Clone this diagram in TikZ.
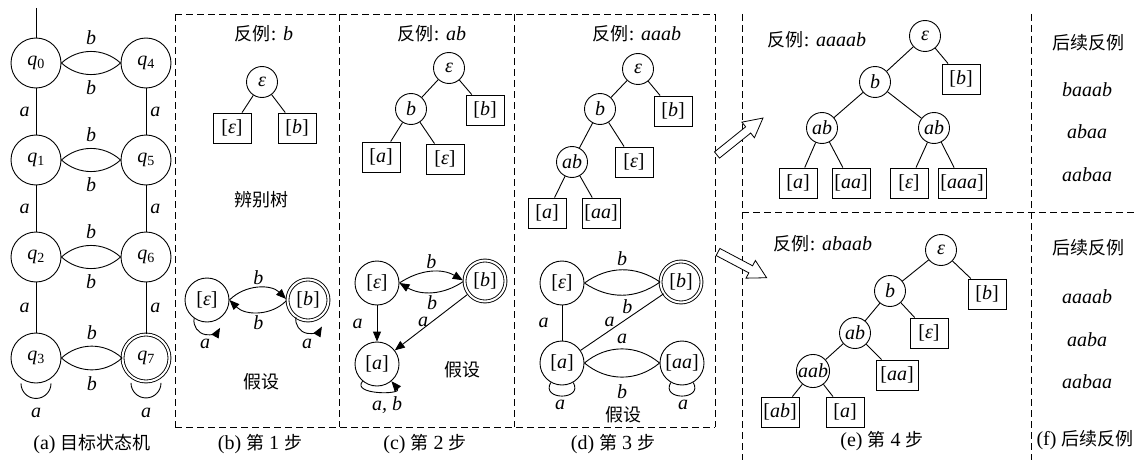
\documentclass[tikz,border=0pt]{standalone}
\usepackage{fontspec}
\setmainfont{Liberation Serif}
\newfontfamily\cjk{Noto Sans CJK SC}
\usetikzlibrary{arrows.meta}
\newcommand\fsz{\fontsize{20}{23}\selectfont}
\newcommand\zh[1]{{\fontsize{18}{21}\selectfont\cjk #1}}
\newcommand\cls[1]{[\textit{#1}]}
\newcommand\eps{\textit{ε}}
\newcommand\qs[1]{\textit{q}\textsubscript{#1}}
\begin{document}
\begin{tikzpicture}[x=1pt,y=1pt,line width=0.9pt,
  every node/.style={font=\fsz},
  st/.style={circle,draw,minimum size=50pt,inner sep=0pt},
  acc/.style={circle,draw,double,double distance=2pt,minimum size=47pt,inner sep=0pt},
  hs/.style={circle,draw,minimum size=44pt,inner sep=0pt},
  hacc/.style={circle,draw,double,double distance=2pt,minimum size=41pt,inner sep=0pt},
  tn/.style={circle,draw,minimum size=31pt,inner sep=0pt},
  lf/.style={rectangle,draw,minimum width=38pt,minimum height=30pt,inner sep=2pt},
  lbl/.style={font=\fsz\itshape,inner sep=1pt},
  sep/.style={dash pattern=on 7pt off 4pt,line width=0.8pt},
  tip/.style={-{Triangle[length=10pt,width=8pt]}},
  hollow/.style={line width=0.8pt,fill=white}]
\useasboundingbox (0,0) rectangle (1138,-460);

% ---------- (a) target automaton ----------
\node[st]  (q0) at (36,-63)   {\qs{0}};
\node[st]  (q4) at (146,-63)  {\qs{4}};
\node[st]  (q1) at (36,-160)  {\qs{1}};
\node[st]  (q5) at (146,-160) {\qs{5}};
\node[st]  (q2) at (36,-257)  {\qs{2}};
\node[st]  (q6) at (146,-257) {\qs{6}};
\node[st]  (q3) at (36,-358)  {\qs{3}};
\node[acc] (q7) at (146,-358) {\qs{7}};
\coordinate (init) at (36,-8);
\draw (init) -- (q0);
\foreach \l/\r in {q0/q4,q1/q5,q2/q6,q3/q7}{
  \draw (\l.east) to[bend left=42]  node[lbl,above=5pt]{b} (\r.west);
  \draw (\l.east) to[bend right=42] node[lbl,below=5pt]{b} (\r.west);
}
\foreach \u/\d in {q0/q1,q1/q2,q2/q3}{
  \draw (\u) -- node[lbl,left=5pt]{a} (\d);
}
\foreach \u/\d in {q4/q5,q5/q6,q6/q7}{
  \draw (\u) -- node[lbl,right=3pt]{a} (\d);
}
\draw ([xshift=-15pt]q3.south) arc[start angle=180,end angle=360,radius=15pt];
\draw ([xshift=-15pt,yshift=-1pt]q7.south) arc[start angle=180,end angle=360,radius=15pt];
\node[lbl] (la3) at (36,-413)  {a};
\node[lbl] (la7) at (146,-413) {a};
\node (capa) at (92,-444) {(a) \zh{目标状态机}};

% ---------- panel frames ----------
\draw[sep] (175,-14) -- (715,-14);
\draw[sep] (175,-427) -- (715,-427);
\foreach \x in {175,339,514,715}{\draw[sep] (\x,-14) -- (\x,-427);}
\draw[sep] (742,-14) -- (742,-460);
\draw[sep] (742,-212) -- (1138,-212);
\draw[sep] (1031,-14) -- (1031,-460);

% ---------- (b) step 1 ----------
\node (tb) at (264,-34) {\zh{反例}: \textit{b}};
\node[tn] (b0) at (262,-82) {\eps};
\node[lf] (b1) at (232,-128) {\cls{ε}};
\node[lf] (b2) at (297,-128) {\cls{b}};
\draw (b0) -- (b1);
\draw (b0) -- (b2);
\node (dtree) at (261,-200) {\zh{辨别树}};
\node[hs]   (h1e) at (207,-300) {\cls{ε}};
\node[hacc] (h1b) at (308,-300) {\cls{b}};
\draw[tip,shorten >=1.5pt] (h1e.east) to[bend left=45] node[lbl,above=2pt]{b} (h1b.west);
\draw[tip,shorten <=1.5pt] (h1b.west) to[bend left=45] node[lbl,below=2pt]{b} (h1e.east);
\draw[tip] (h1e.-125) arc[start angle=170,end angle=330,radius=14pt];
\draw[tip] (h1b.-125) arc[start angle=170,end angle=330,radius=14pt];
\node[lbl] (l1e) at (205,-344) {a};
\node[lbl] (l1b) at (307,-344) {a};
\node (hyb) at (261,-382) {\zh{假设}};
\node (capb) at (260,-444) {(b) \zh{第} 1 \zh{步}};

% ---------- (c) step 2 ----------
\node (tc) at (432,-34) {\zh{反例}: \textit{ab}};
\node[tn] (c0) at (449,-68)  {\eps};
\node[tn] (c1) at (411,-109) {\textit{b}};
\node[lf] (c2) at (485,-110) {\cls{b}};
\node[lf] (c3) at (381,-157) {\cls{a}};
\node[lf] (c4) at (445,-159) {\cls{ε}};
\draw (c0) -- (c1);
\draw (c0) -- (c2);
\draw (c1) -- (c3);
\draw (c1) -- (c4);
\node[hs]   (h2e) at (377,-283) {\cls{ε}};
\node[hacc] (h2b) at (485,-281) {\cls{b}};
\node[hs]   (h2a) at (377,-364) {\cls{a}};
\draw[tip,shorten >=1.5pt] (h2e.east) to[bend left=32] node[lbl,above=2pt]{b} (h2b.west);
\draw[tip,shorten <=1.5pt] (h2b.west) to[bend left=32] node[lbl,below=2pt]{b} (h2e.east);
\draw[tip] (h2e) -- node[lbl,left=13pt]{a} (h2a);
\draw[tip,shorten <=1.5pt] (h2b) -- node[lbl,left=2pt]{a} (h2a);
\draw[tip] (h2a) to[out=-130,in=-50,looseness=1.6] (h2a);
\node[lbl] (l2a) at (387,-405) {a, b};
\node (hyc) at (462,-370) {\zh{假设}};
\node (capc) at (425,-444) {(c) \zh{第} 2 \zh{步}};

% ---------- (d) step 3 ----------
\node (td) at (637,-34) {\zh{反例}: \textit{aaab}};
\node[tn] (d0) at (638,-69)  {\eps};
\node[tn] (d1) at (600,-109) {\textit{b}};
\node[lf] (d2) at (673,-111) {\cls{b}};
\node[tn] (d3) at (572,-162) {\textit{ab}};
\node[lf] (d4) at (634,-162) {\cls{ε}};
\node[lf] (d5) at (547,-213) {\cls{a}};
\node[lf] (d6) at (601,-213) {\cls{aa}};
\draw (d0) -- (d1);
\draw (d0) -- (d2);
\draw (d1) -- (d3);
\draw (d1) -- (d4);
\draw (d3) -- (d5);
\draw (d3) -- (d6);
\node[hs]   (h3e)  at (562,-283) {\cls{ε}};
\node[hacc] (h3b)  at (681,-282) {\cls{b}};
\node[hs]   (h3a)  at (562,-363) {\cls{a}};
\node[hs]   (h3aa) at (682,-363) {\cls{aa}};
\draw (h3e.east) to[bend left=35]  node[lbl,above=3pt]{b} (h3b.west);
\draw (h3e.east) to[bend right=35] node[lbl,below=3pt,xshift=5pt]{b} (h3b.west);
\draw (h3e) -- node[lbl,left=12pt]{a} (h3a);
\draw (h3b) -- node[lbl,left=6pt]{a} (h3a);
\draw (h3a.east) to[bend left=40]  node[lbl,above=4pt]{a} (h3aa.west);
\draw (h3a.east) to[bend right=40] node[lbl,below=6pt]{b} (h3aa.west);
\draw (h3a)  to[out=-120,in=-60,looseness=2.4] (h3a);
\draw (h3aa) to[out=-120,in=-60,looseness=2.4] (h3aa);
\node[lbl] (l3a)  at (560,-405) {a};
\node[lbl] (l3aa) at (683,-405) {a};
\node (hyd) at (623,-415) {\zh{假设}};
\node (capd) at (613,-444) {(d) \zh{第} 3 \zh{步}};

% ---------- (e) step 4 ----------
\begin{scope}[shift={(717,-155)},rotate=38.8]
  \draw[hollow] (0,-4) -- (40,-4) -- (40,-10) -- (59,0) -- (40,10) -- (40,4) -- (0,4) -- cycle;
\end{scope}
\begin{scope}[shift={(718,-252)},rotate=-27.9]
  \draw[hollow] (0,-4) -- (37,-4) -- (37,-10) -- (55,0) -- (37,10) -- (37,4) -- (0,4) -- cycle;
\end{scope}

\node (te1) at (817,-40) {\zh{反例}: \textit{aaaab}};
\node[tn] (e0) at (925,-36)  {\eps};
\node[tn] (e1) at (875,-82)  {\textit{b}};
\node[lf] (e2) at (961,-79)  {\cls{b}};
\node[tn] (e3) at (822,-128) {\textit{ab}};
\node[tn] (e4) at (934,-128) {\textit{ab}};
\node[lf] (e5) at (798,-183) {\cls{a}};
\node[lf] (e6) at (851,-183) {\cls{aa}};
\node[lf] (e7) at (909,-183) {\cls{ε}};
\node[lf,minimum width=48pt] (e8) at (962,-183) {\cls{aaa}};
\draw (e0) -- (e1);
\draw (e0) -- (e2);
\draw (e1) -- (e3);
\draw (e1) -- (e4);
\draw (e3) -- (e5);
\draw (e3) -- (e6);
\draw (e4) -- (e7);
\draw (e4) -- (e8);

\node (te2) at (823,-244) {\zh{反例}: \textit{abaab}};
\node[tn] (g0) at (941,-250) {\eps};
\node[tn] (g1) at (890,-291) {\textit{b}};
\node[lf] (g2) at (987,-294) {\cls{b}};
\node[tn] (g3) at (855,-333) {\textit{ab}};
\node[lf] (g4) at (929,-333) {\cls{ε}};
\node[tn] (g5) at (813,-371) {\textit{aab}};
\node[lf,minimum width=42pt] (g6) at (897,-375) {\cls{aa}};
\node[lf] (g7) at (780,-412) {\cls{ab}};
\node[lf] (g8) at (845,-412) {\cls{a}};
\draw (g0) -- (g1);
\draw (g0) -- (g2);
\draw (g1) -- (g3);
\draw (g1) -- (g4);
\draw (g3) -- (g5);
\draw (g3) -- (g6);
\draw (g5) -- (g7);
\draw (g5) -- (g8);
\node (cape) at (882,-441) {(e) \zh{第} 4 \zh{步}};

% ---------- (f) further counterexamples ----------
\node (f1) at (1088,-43)  {\zh{后续反例}};
\node[lbl] (f2) at (1087,-90)  {baaab};
\node[lbl] (f3) at (1087,-132) {abaa};
\node[lbl] (f4) at (1087,-175) {aabaa};
\node (f5) at (1088,-248) {\zh{后续反例}};
\node[lbl] (f6) at (1087,-297) {aaaab};
\node[lbl] (f7) at (1087,-340) {aaba};
\node[lbl] (f8) at (1087,-382) {aabaa};
\node (capf) at (1085,-440) {(f) \zh{后续反例}};
\end{tikzpicture}
\end{document}
